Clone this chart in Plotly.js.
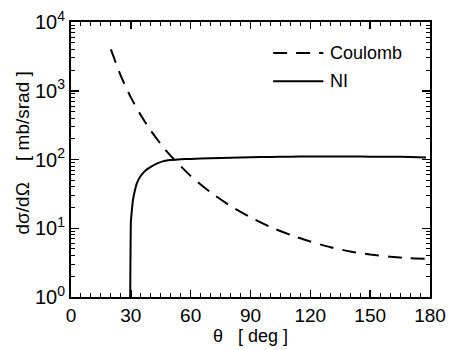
<!DOCTYPE html>
<html><head><meta charset="utf-8">
<script src="https://cdn.plot.ly/plotly-3.0.1.min.js"></script>
<style>html,body{margin:0;padding:0;background:#fff}#c{width:450px;height:350px}</style>
</head><body><div id="c"></div>
<script>
// Coulomb cross section
const coulombTheta = [20, 25, 30, 35, 40, 45, 50, 60, 70, 80, 90, 100, 110, 120, 130, 140, 150, 160, 170, 178];
const coulombVal   = [4000, 1640, 800, 440, 263, 168, 113, 57.6, 33.3, 21.1, 14.4, 10.4, 8.0, 6.4, 5.3, 4.6, 4.15, 3.85, 3.65, 3.6];
// NI cross section
const niTheta = [29.6, 29.8, 30.0, 30.5, 31, 32, 33, 35, 37.5, 40, 43, 46, 50, 55, 60, 70, 80, 90, 100, 110, 120, 130, 140, 150, 160, 170, 178];
const niVal   = [0.5, 3, 12, 18, 25, 35, 45, 58, 70, 78, 87, 94, 98, 101, 102, 104, 106, 108, 109, 110, 111, 111, 111, 110, 110, 109, 107];
const yTickVals = [1, 10, 100, 1000, 10000];
const yTickText = ['10<sup>0</sup>', '10<sup>1</sup>', '10<sup>2</sup>', '10<sup>3</sup>', '10<sup>4</sup>'];
const xTickVals = [0, 30, 60, 90, 120, 150, 180];
const legendNames = ['Coulomb', 'NI'];

const F = 'Liberation Sans, Arial, sans-serif';
const traces = [
  {x: coulombTheta, y: coulombVal, mode: 'lines', name: legendNames[0],
   line: {color: '#000', width: 2, dash: '14px,9px', shape: 'spline', smoothing: 0.6}},
  {x: niTheta, y: niVal, mode: 'lines', name: legendNames[1],
   line: {color: '#000', width: 2, shape: 'spline', smoothing: 0.3}}
];
const layout = {
  width: 450, height: 350,
  margin: {l: 71, r: 20, t: 22, b: 53},
  paper_bgcolor: '#fff', plot_bgcolor: '#fff',
  font: {family: F, size: 18, color: '#000'},
  showlegend: false,
  xaxis: {
    range: [0, 180], tickvals: xTickVals, ticks: 'inside', ticklen: 7, tickwidth: 1.5,
    tickcolor: '#000', showline: true, linewidth: 2, linecolor: '#000', mirror: 'allticks',
    showgrid: false, zeroline: false, tickfont: {size: 19, family: F},
    minor: {dtick: 5, ticks: 'inside', ticklen: 4, tickwidth: 1, tickcolor: '#000', showgrid: false},
    title: {text: 'θ\u00a0\u00a0\u00a0[ deg ]', font: {size: 18, family: F}, standoff: 5}
  },
  yaxis: {
    type: 'log', range: [0, 4], tickmode: 'array', tickvals: yTickVals, ticktext: yTickText,
    ticks: 'inside', ticklen: 8, tickwidth: 1.5, tickcolor: '#000',
    showline: true, linewidth: 2, linecolor: '#000', mirror: 'allticks',
    showgrid: false, zeroline: false, tickfont: {size: 20, family: F},
    minor: {dtick: 'D1', ticks: 'inside', ticklen: 4, tickwidth: 1, tickcolor: '#000', showgrid: false}
  },
  shapes: [
    {type: 'line', xref: 'paper', yref: 'paper', x0: 0.563, x1: 0.703, y0: 0.887, y1: 0.887,
     line: {color: '#000', width: 2, dash: '14px,9px'}},
    {type: 'line', xref: 'paper', yref: 'paper', x0: 0.563, x1: 0.703, y0: 0.785, y1: 0.785,
     line: {color: '#000', width: 2}}
  ],
  annotations: [
    {xref: 'paper', yref: 'paper', x: 0.715, y: 0.887, xanchor: 'left', yanchor: 'middle',
     text: legendNames[0], showarrow: false, font: {size: 18, family: F}},
    {xref: 'paper', yref: 'paper', x: 0.715, y: 0.785, xanchor: 'left', yanchor: 'middle',
     text: legendNames[1], showarrow: false, font: {size: 18, family: F}},
    {xref: 'paper', yref: 'paper', x: 0, y: 0.522, xanchor: 'center', yanchor: 'middle',
     xshift: -49, textangle: -90, showarrow: false,
     text: 'dσ/dΩ\u00a0\u00a0\u00a0\u00a0[ mb/srad ]', font: {size: 19, family: F}}
  ]
};
Plotly.newPlot('c', traces, layout, {staticPlot: true, displayModeBar: false});
</script></body></html>
